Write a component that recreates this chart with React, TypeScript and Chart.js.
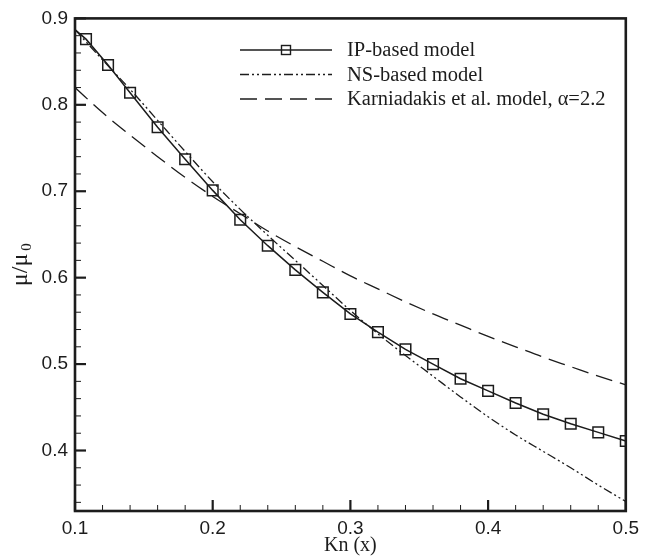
import React, { useEffect, useRef } from "react";
import { Chart, registerables } from "chart.js";

Chart.register(...registerables);

// ---- data ----
const ipKn = [0.1, 0.108, 0.124, 0.14, 0.16, 0.18, 0.2, 0.22, 0.24, 0.26, 0.28, 0.3, 0.32, 0.34, 0.36, 0.38, 0.4, 0.42, 0.44, 0.46, 0.48, 0.5];
const ipMu = [0.887, 0.876, 0.846, 0.814, 0.774, 0.737, 0.701, 0.667, 0.637, 0.609, 0.583, 0.558, 0.537, 0.517, 0.5, 0.483, 0.469, 0.455, 0.442, 0.431, 0.421, 0.411];
const ipMarker = [false, true, true, true, true, true, true, true, true, true, true, true, true, true, true, true, true, true, true, true, true, true];

const curveKn = [0.1, 0.12, 0.14, 0.16, 0.18, 0.2, 0.22, 0.24, 0.26, 0.28, 0.3, 0.32, 0.34, 0.36, 0.38, 0.4, 0.42, 0.44, 0.46, 0.48, 0.5];
const nsMu = [0.887, 0.852, 0.818, 0.782, 0.746, 0.711, 0.679, 0.649, 0.62, 0.591, 0.562, 0.535, 0.51, 0.486, 0.462, 0.439, 0.418, 0.399, 0.38, 0.36, 0.341];
const karMu = [0.82, 0.791, 0.765, 0.74, 0.716, 0.694, 0.674, 0.654, 0.636, 0.619, 0.602, 0.587, 0.572, 0.558, 0.545, 0.532, 0.52, 0.508, 0.497, 0.486, 0.476];

const seriesNames = ["IP-based model", "NS-based model", "Karniadakis et al. model, \u03b1=2.2"];

const xTicks = [0.1, 0.12, 0.14, 0.16, 0.18, 0.2, 0.22, 0.24, 0.26, 0.28, 0.3, 0.32, 0.34, 0.36, 0.38, 0.4, 0.42, 0.44, 0.46, 0.48, 0.5];
const yTicks = [0.34, 0.36, 0.38, 0.4, 0.42, 0.44, 0.46, 0.48, 0.5, 0.52, 0.54, 0.56, 0.58, 0.6, 0.62, 0.64, 0.66, 0.68, 0.7, 0.72, 0.74, 0.76, 0.78, 0.8, 0.82, 0.84, 0.86, 0.88, 0.9];
const xMin = 0.1, xMax = 0.5, yMin = 0.33, yMax = 0.9;
const xTitle = "Kn (x)";

const INK = "#1c1c1c";
const NS_DASH = [9, 3, 2, 3, 2, 3];
const KAR_DASH = [17, 8];

const isMajor = (v: number) => Math.abs(v * 10 - Math.round(v * 10)) < 1e-6;

const framePlugin = {
  id: "frameTicks",
  afterDraw(chart: any) {
    const { ctx, chartArea: a, scales } = chart;
    ctx.save();
    ctx.strokeStyle = INK;
    // inward ticks
    for (const t of scales.x.ticks) {
      const px = scales.x.getPixelForValue(t.value);
      const maj = isMajor(t.value);
      ctx.lineWidth = maj ? 2.2 : 1;
      ctx.beginPath();
      ctx.moveTo(px, a.bottom);
      ctx.lineTo(px, a.bottom - (maj ? 11 : 6));
      ctx.stroke();
    }
    for (const t of scales.y.ticks) {
      const py = scales.y.getPixelForValue(t.value);
      const maj = isMajor(t.value);
      ctx.lineWidth = maj ? 2.2 : 1;
      ctx.beginPath();
      ctx.moveTo(a.left, py);
      ctx.lineTo(a.left + (maj ? 11 : 6), py);
      ctx.stroke();
    }
    // frame
    ctx.lineWidth = 2.6;
    ctx.strokeRect(a.left, a.top, a.right - a.left, a.bottom - a.top);

    // legend
    const rows = [50, 74.5, 99];
    const x0 = 240, x1 = 332, tx = 347;
    ctx.font = '20.5px "Liberation Serif", serif';
    ctx.fillStyle = INK;
    ctx.textBaseline = "middle";
    ctx.textAlign = "left";
    const dashes = [[], NS_DASH, KAR_DASH];
    const widths = [1.5, 1.3, 1.3];
    rows.forEach((ry, i) => {
      ctx.setLineDash(dashes[i]);
      ctx.lineWidth = widths[i];
      ctx.beginPath();
      ctx.moveTo(x0, ry);
      ctx.lineTo(x1, ry);
      ctx.stroke();
      ctx.setLineDash([]);
      if (i === 0) {
        ctx.lineWidth = 1.4;
        ctx.strokeRect((x0 + x1) / 2 - 4.5, ry - 4.5, 9, 9);
      }
      ctx.fillText(seriesNames[i], tx, ry + 1);
    });

    // y title  mu/mu_0
    ctx.save();
    ctx.translate(27, (a.top + a.bottom) / 2);
    ctx.rotate(-Math.PI / 2);
    ctx.textBaseline = "alphabetic";
    ctx.font = '24px "Liberation Serif", serif';
    const main = "\u03bc/\u03bc";
    const w1 = ctx.measureText(main).width;
    ctx.font = '15px "Liberation Serif", serif';
    const w0 = ctx.measureText("0").width;
    const total = w1 + 3 + w0;
    ctx.font = '24px "Liberation Serif", serif';
    ctx.fillText(main, -total / 2, 0);
    ctx.font = '15px "Liberation Serif", serif';
    ctx.fillText("0", -total / 2 + w1 + 3, 4);
    ctx.restore();

    ctx.restore();
  },
};

export default function App() {
  const ref = useRef<HTMLCanvasElement | null>(null);
  useEffect(() => {
    if (!ref.current) return;
    const chart = new Chart(ref.current, {
      type: "line",
      data: {
        datasets: [
          {
            label: seriesNames[0],
            data: ipKn.map((x, i) => ({ x, y: ipMu[i] })),
            borderColor: INK,
            borderWidth: 1.5,
            pointStyle: "rect",
            pointRadius: ipMarker.map((m) => (m ? 7.5 : 0)),
            pointBorderWidth: 1.5,
            pointBorderColor: INK,
            pointBackgroundColor: "rgba(0,0,0,0)",
            tension: 0,
          },
          {
            label: seriesNames[1],
            data: curveKn.map((x, i) => ({ x, y: nsMu[i] })),
            borderColor: INK,
            borderWidth: 1.3,
            borderDash: NS_DASH,
            pointRadius: 0,
            cubicInterpolationMode: "monotone",
          },
          {
            label: seriesNames[2],
            data: curveKn.map((x, i) => ({ x, y: karMu[i] })),
            borderColor: INK,
            borderWidth: 1.3,
            borderDash: KAR_DASH,
            pointRadius: 0,
            cubicInterpolationMode: "monotone",
          },
        ],
      },
      options: {
        animation: false,
        responsive: false,
        maintainAspectRatio: false,
        layout: { padding: { left: 0, top: 16, right: 13, bottom: 0 } },
        plugins: { legend: { display: false }, tooltip: { enabled: false } },
        scales: {
          x: {
            type: "linear",
            min: xMin,
            max: xMax,
            grid: { display: false, drawTicks: false },
            border: { display: false },
            afterBuildTicks: (s: any) => {
              s.ticks = xTicks.map((v) => ({ value: v }));
            },
            afterFit: (s: any) => {
              s.height = 47;
            },
            ticks: {
              autoSkip: false,
              maxRotation: 0,
              padding: 6,
              color: INK,
              font: { family: '"Liberation Sans", Arial, sans-serif', size: 19 },
              callback: (v: any) => (isMajor(Number(v)) ? Number(v).toFixed(1) : ""),
            },
            title: {
              display: true,
              text: xTitle,
              color: INK,
              font: { family: '"Liberation Serif", serif', size: 20 },
              padding: { top: 2, bottom: 0 },
            },
          },
          y: {
            type: "linear",
            min: yMin,
            max: yMax,
            grid: { display: false, drawTicks: false },
            border: { display: false },
            afterBuildTicks: (s: any) => {
              s.ticks = yTicks.map((v) => ({ value: v }));
            },
            afterFit: (s: any) => {
              s.width = 75;
            },
            ticks: {
              autoSkip: false,
              padding: 7,
              color: INK,
              font: { family: '"Liberation Sans", Arial, sans-serif', size: 19 },
              callback: (v: any) => (isMajor(Number(v)) ? Number(v).toFixed(1) : ""),
            },
          },
        },
      },
      plugins: [framePlugin],
    } as any);
    return () => chart.destroy();
  }, []);
  return (
    <div style={{ position: "fixed", left: 0, top: 0, width: 645, height: 558, background: "#fff" }}>
      <canvas ref={ref} width={645} height={558} style={{ width: 645, height: 558 }} />
    </div>
  );
}
